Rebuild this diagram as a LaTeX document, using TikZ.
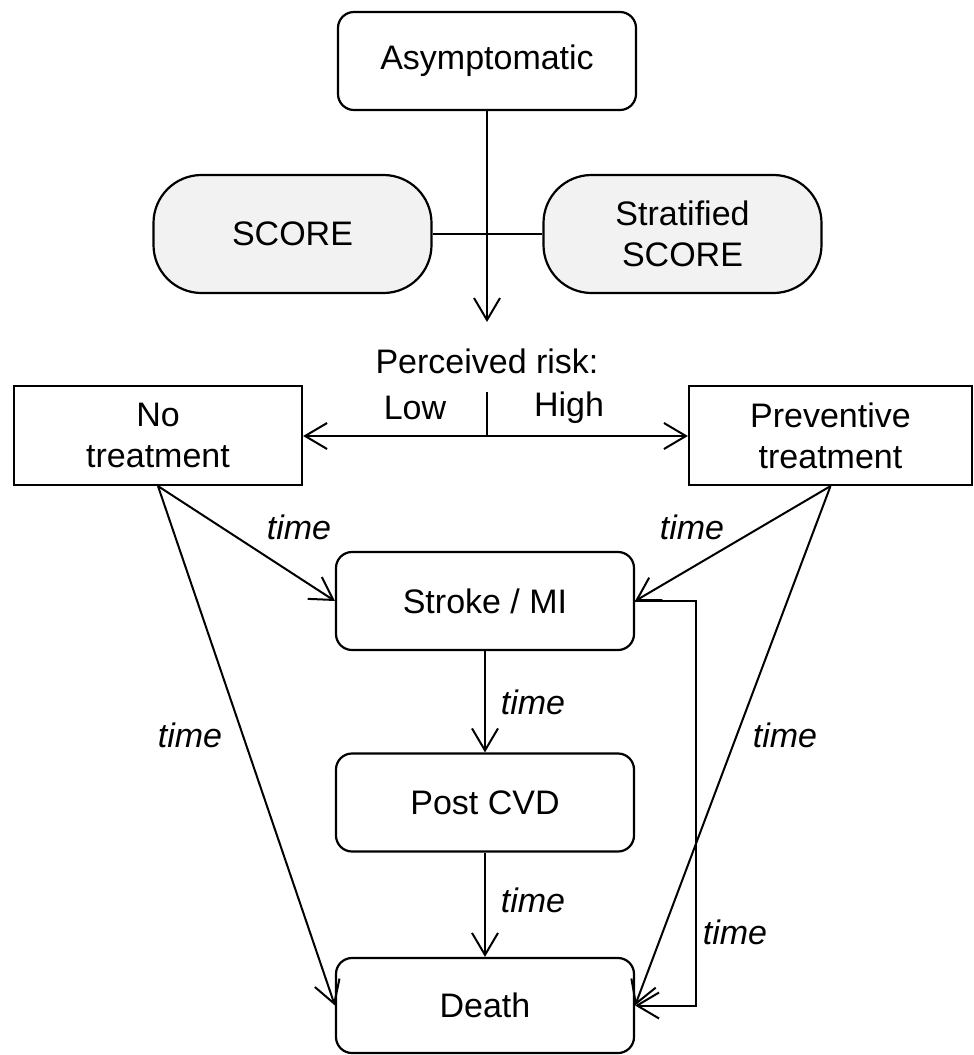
\documentclass[tikz,border=0pt]{standalone}
\usepackage{fontspec}
\setmainfont{Liberation Sans}
\usetikzlibrary{arrows.meta}
\definecolor{pillgray}{HTML}{F2F2F2}
\tikzset{
  base/.style={draw, line width=2.2pt, align=center, inner sep=0pt, font=\fontsize{34}{41}\selectfont},
  roundbox/.style={base, rounded corners=16pt, minimum width=298pt, minimum height=98pt},
  pill/.style={base, fill=pillgray, rounded corners=48pt, minimum width=278pt, minimum height=118pt},
  sqbox/.style={base, minimum height=99pt},
  conn/.style={line width=2pt, -{Straight Barb[length=22pt, width=26pt, line width=2pt]}},
  plain/.style={line width=2pt},
  lbl/.style={font=\fontsize{34}{41}\selectfont\itshape, inner sep=0pt},
  txt/.style={font=\fontsize{34}{41}\selectfont, inner sep=0pt},
}
\begin{document}
\begin{tikzpicture}[x=1pt,y=-1pt]
\useasboundingbox (0,0) rectangle (974,1055);
\node[roundbox] (asym) at (487,61) {Asymptomatic};
\node[pill] (score) at (292.5,234) {SCORE};
\node[pill] (strat) at (682.5,234) {Stratified\\SCORE};
\coordinate (riskin) at (487,322);
\node[txt] (perc) at (487,361) {Perceived risk:};
\node[sqbox, minimum width=288pt] (notreat) at (158,435.5) {No\\treatment};
\node[sqbox, minimum width=283pt] (prev) at (830.5,435.5) {Preventive\\treatment};
\coordinate (mid) at (487,436);
\coordinate (tick) at (487,392);
\node[txt] (low) at (415,408) {Low};
\node[txt] (high) at (569,408) {High};
\node[roundbox] (stroke) at (485,601) {Stroke / MI};
\node[roundbox] (post) at (485,802.5) {Post CVD};
\node[roundbox, minimum height=95pt] (death) at (485,1005.5) {Death};
\coordinate (route) at (696,601);

\draw[conn] (asym.south) -- (riskin);
\draw[plain] (score.east) -- (strat.west);
\draw[conn] (mid) -- (notreat.east |- mid);
\draw[conn] (mid) -- (prev.west |- mid);
\draw[plain] (mid) -- (tick);
\draw[conn] (notreat.south) -- (stroke.west);
\draw[conn] (notreat.south) -- (death.west);
\draw[conn] (prev.south) -- (stroke.east);
\draw[conn] (prev.south) -- (death.east);
\draw[conn] (stroke.south) -- (post.north);
\draw[conn] (post.south) -- (death.north);
\draw[conn] (stroke.east) -- (route) |- (death.east);

\node[lbl] at (299,527) {time};
\node[lbl] at (692,527) {time};
\node[lbl] at (190,735) {time};
\node[lbl] at (785,735) {time};
\node[lbl] at (533,702) {time};
\node[lbl] at (533,900) {time};
\node[lbl] at (735,932) {time};
\end{tikzpicture}
\end{document}
